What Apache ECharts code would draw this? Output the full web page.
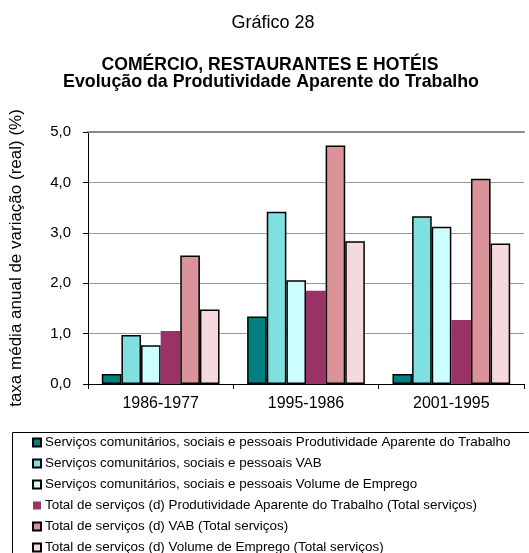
<!DOCTYPE html>
<html>
<head>
<meta charset="utf-8">
<script src="https://cdn.jsdelivr.net/npm/echarts@6/dist/echarts.min.js"></script>
<style>
  html, body { margin: 0; padding: 0; background: #fff; }
  #chart { width: 529px; height: 553px; }
</style>
</head>
<body>
<div id="chart"></div>
<script>
// Periods on the category axis
const periods = ['1986-1977', '1995-1986', '2001-1995'];

// Average annual real growth rates (%)
const servComProdutividade = [0.2, 1.34, 0.2];
const servComVAB = [0.97, 3.42, 3.33];
const servComEmprego = [0.77, 2.06, 3.12];
const totalProdutividade = [1.05, 1.85, 1.27];
const totalVAB = [2.55, 4.73, 4.07];
const totalEmprego = [1.48, 2.83, 2.79];

const seriesNames = [
  'Serviços comunitários, sociais e pessoais Produtividade Aparente do Trabalho',
  'Serviços comunitários, sociais e pessoais VAB',
  'Serviços comunitários, sociais e pessoais Volume de Emprego',
  'Total de serviços (d) Produtividade Aparente do Trabalho (Total serviços)',
  'Total de serviços (d) VAB (Total serviços)',
  'Total de serviços (d) Volume de Emprego (Total serviços)'
];

const yTicks = { min: 0, max: 5, step: 1 };

const FONT = '"Liberation Sans", Arial, sans-serif';

const seriesData = [servComProdutividade, servComVAB, servComEmprego,
                    totalProdutividade, totalVAB, totalEmprego];
const fills = ['#008080', '#80E0DF', '#CCFFFF', '#993366', '#DA9499', '#F4D9DD'];
const outlined = [true, true, true, false, true, true];

const chart = echarts.init(document.getElementById('chart'), null, { renderer: 'canvas' });

const series = seriesData.map((data, i) => ({
  name: seriesNames[i],
  type: 'bar',
  data: data,
  barGap: 0,
  barCategoryGap: '19%',
  itemStyle: {
    color: fills[i],
    borderColor: outlined[i] ? '#000' : fills[i],
    borderWidth: outlined[i] ? 1.5 : 0
  },
  emphasis: { disabled: true }
}));

chart.setOption({
  animation: false,
  textStyle: { fontFamily: FONT },
  grid: { left: 87, right: 5, top: 132, bottom: 169, containLabel: false },
  graphic: [
    { type: 'text', x: 273, y: 23,
      style: { text: 'Gráfico 28', font: '18px ' + FONT, fill: '#000',
               textAlign: 'center', textVerticalAlign: 'middle' } },
    { type: 'text', x: 270, y: 65,
      style: { text: 'COMÉRCIO, RESTAURANTES E HOTÉIS', font: 'bold 17.6px ' + FONT, fill: '#000',
               textAlign: 'center', textVerticalAlign: 'middle' } },
    { type: 'text', x: 271, y: 82,
      style: { text: 'Evolução da Produtividade Aparente do Trabalho', font: 'bold 17.8px ' + FONT, fill: '#000',
               textAlign: 'center', textVerticalAlign: 'middle' } },
    { type: 'rect', shape: { x: 12.5, y: 432.5, width: 600, height: 200 },
      style: { fill: 'none', stroke: '#000', lineWidth: 1 } }
  ],
  legend: {
    orient: 'vertical',
    left: 32,
    top: 436,
    width: 495,
    height: 300,
    padding: 0,
    itemWidth: 8,
    itemHeight: 8,
    itemGap: 8,
    icon: 'rect',
    selectedMode: false,
    textStyle: { fontFamily: FONT, fontSize: 13.4, color: '#000', padding: [0, 0, 0, -1] },
    data: seriesNames
  },
  xAxis: [{
    type: 'category',
    data: periods,
    axisLine: { lineStyle: { color: '#000', width: 1 } },
    axisTick: { show: true, length: 5, lineStyle: { color: '#000' } },
    axisLabel: { fontSize: 16, color: '#000', margin: 12, fontFamily: FONT },
    splitLine: { show: false }
  }, {
    type: 'category',
    position: 'top',
    data: periods,
    axisLine: { lineStyle: { color: '#888', width: 2 } },
    axisTick: { show: false },
    axisLabel: { show: false }
  }],
  yAxis: {
    type: 'value',
    min: yTicks.min,
    max: yTicks.max,
    interval: yTicks.step,
    name: 'taxa média anual de variação (real) (%)',
    nameLocation: 'middle',
    nameRotate: 90,
    nameGap: 63,
    nameTextStyle: { fontSize: 17, color: '#000', fontFamily: FONT },
    axisLine: { show: true, lineStyle: { color: '#000', width: 1 } },
    axisTick: { show: true, length: 5, lineStyle: { color: '#000' } },
    axisLabel: {
      fontSize: 15, color: '#000', margin: 17, fontFamily: FONT,
      formatter: v => v.toFixed(1).replace('.', ',')
    },
    splitLine: { show: true, lineStyle: { color: '#999', width: 1 } }
  },
  series: series
});
</script>
</body>
</html>
